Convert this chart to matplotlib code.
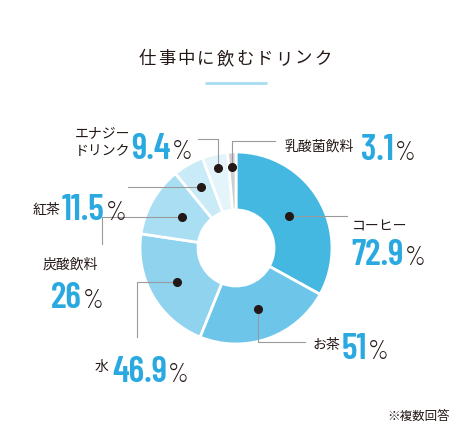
"""Donut chart: drinks consumed during work (multiple answers)."""

import numpy as np
import matplotlib
matplotlib.use("Agg")
import matplotlib.pyplot as plt

labels = ["コーヒー", "お茶", "水", "炭酸飲料", "紅茶", "エナジー\nドリンク", "乳酸菌飲料"]
values = [72.9, 51, 46.9, 26, 11.5, 9.4, 3.1]
value_text = ["72.9", "51", "46.9", "26", "11.5", "9.4", "3.1"]
colors = ["#45B8E1", "#6DC6EA", "#8FD3EF", "#AADEF3", "#C9EAF7", "#E3F4FB", "#CFCFCF"]

title = "仕事中に飲むドリンク"
note = "※複数回答"

W, H = 465, 435
CX, CY, R_OUT, R_IN = 236, 249, 96, 38

JP = ["Noto Sans CJK JP", "DejaVu Sans"]
NUM = ["Barlow Condensed", "Roboto Condensed", "DejaVu Sans"]
BLUE = "#29A9E0"
DARK = "#231815"
GREY = "#9A9A9A"

fig = plt.figure(figsize=(W / 100, H / 100), dpi=100)
ax = fig.add_axes([0, 0, 1, 1])


def Y(y):
    return H - y


wedges, _ = ax.pie(values, colors=colors, startangle=90, counterclock=False,
                   center=(CX, Y(CY)), radius=R_OUT, frame=True,
                   wedgeprops=dict(width=R_OUT - R_IN, edgecolor="white", linewidth=2))
ax.set_xlim(0, W)
ax.set_ylim(0, H)
ax.set_aspect("equal")
ax.axis("off")

# title with wide letter spacing + underline
step = 19.6
x0 = 137 + step / 2
for i, ch in enumerate(title):
    ax.text(x0 + i * step, Y(59), ch, family=JP, fontsize=12.5, color=DARK,
            ha="center", va="center")
ax.plot([205, 267], [Y(84), Y(84)], color="#A8DCF0", lw=2, solid_capstyle="butt")

# dots at wedge middles
dot_r = [62, 65, 68, 62, 70, 82, 81]
dots = []
for w, r in zip(wedges, dot_r):
    a = np.deg2rad((w.theta1 + w.theta2) / 2)
    dots.append((CX + r * np.cos(a), Y(CY) + r * np.sin(a)))


def leader(i):
    dx, dy = dots[i]
    if i == 0:
        return [(dx, dy), (347, dy)]
    if i == 1:
        return [(dx, dy), (dx, Y(343)), (305, Y(343))]
    if i == 2:
        return [(dx, dy), (137, dy), (137, Y(338))]
    if i == 3:
        return [(dx, dy), (102, dy), (102, Y(245))]
    if i == 4:
        return [(dx, dy), (128, dy)]
    if i == 5:
        return [(dx, dy), (dx, Y(140)), (198, Y(140))]
    return [(dx, dy), (dx, Y(142)), (275, Y(142))]


for i in range(len(values)):
    pts = np.array(leader(i))
    ax.plot(pts[:, 0], pts[:, 1], color=GREY, lw=0.8, zorder=3)
    ax.plot(*dots[i], "o", color=DARK, ms=5.5, zorder=4)

# labels: (name x, name y, number x, number baseline y)
lab_pos = [
    (352, 227, 351, 265),
    (313, 345, 342, 359),
    (95, 367, 112, 382),
    (43, 265, 51, 308),
    (33, 210, 62, 220),
    (75, 142, 131, 159),
    (285, 147, 361, 160),
]
for i, (lx, ly, nx, ny) in enumerate(lab_pos):
    ax.text(lx, Y(ly), labels[i], family=JP, fontsize=10, color=DARK,
            ha="left", va="center", linespacing=1.3)
    t = ax.text(nx, Y(ny), value_text[i], family=NUM, fontsize=26, fontweight=600,
                color=BLUE, ha="left", va="baseline")
    fig.canvas.draw()
    bb = t.get_window_extent().transformed(ax.transData.inverted())
    ax.text(bb.x1 + 1, Y(ny), "%", family=NUM, fontsize=19, fontweight=300,
            color=DARK, ha="left", va="baseline")

ax.text(450, Y(416), note, family=JP, fontsize=9, color=DARK, ha="right", va="center")

fig.savefig("out.png", dpi=100, facecolor="white")
